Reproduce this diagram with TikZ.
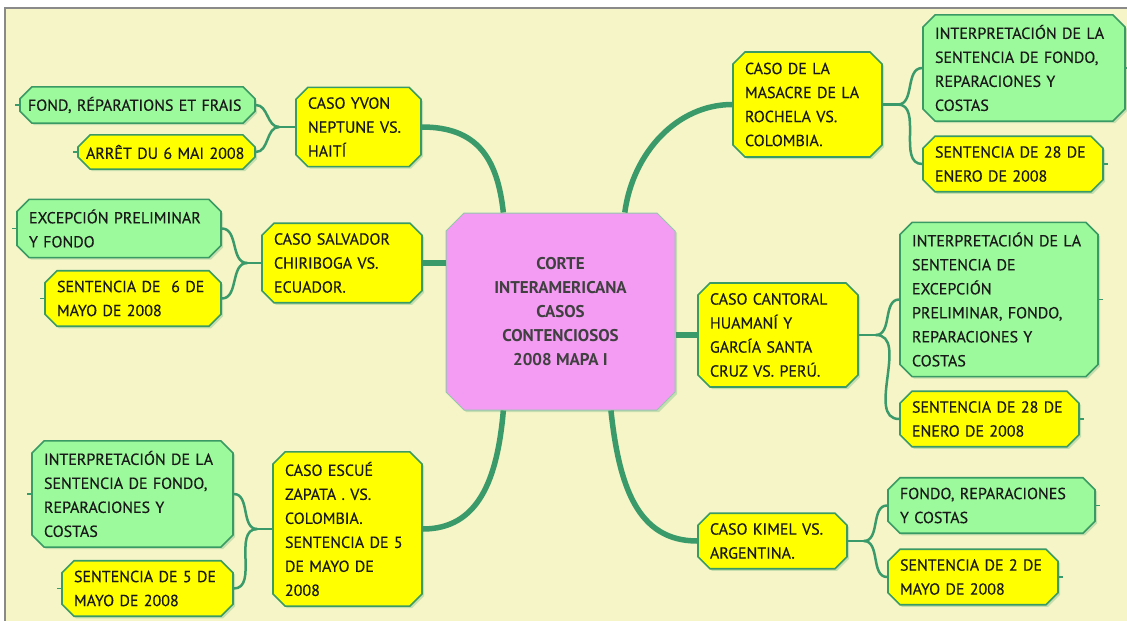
\documentclass[tikz,border=0pt]{standalone}
\usepackage{fontspec}
\setmainfont{PT Sans}
\newfontfamily\textocaja{PT Sans}[FakeBold=0.35]
\usetikzlibrary{shapes.misc,shadows}

\definecolor{fondo}{HTML}{F5F5C8}
\definecolor{borde}{HTML}{3A9A64}
\definecolor{amarillo}{HTML}{FFFF00}
\definecolor{verde}{HTML}{9CF99C}
\definecolor{rosa}{HTML}{F49CF4}
\definecolor{ramas}{HTML}{3A9A6A}
\definecolor{marco}{HTML}{8A8A8A}

\tikzset{
  caja/.style={chamfered rectangle, chamfered rectangle xsep=6pt,
    chamfered rectangle ysep=6pt, draw=borde, line width=1.6pt,
    align=left, inner xsep=6pt, inner ysep=4pt,
    font=\fontsize{16}{24}\textocaja, text=black!90,
    drop shadow={shadow xshift=2pt, shadow yshift=-2pt, fill=borde, opacity=.25}},
  caso/.style={caja, fill=amarillo},
  hoja/.style={caja, fill=verde},
  linea/.style={inner xsep=2pt},
  tronco/.style={draw=ramas, line width=5.5pt},
  rama/.style={draw=ramas, line width=2.5pt},
  cabo/.style={draw=ramas, line width=1.5pt},
}

\begin{document}
\begin{tikzpicture}[x=1pt, y=-1pt]
  \useasboundingbox (0,0) rectangle (1127,621);
  \fill[white] (0,0) rectangle (1127,621);
  \fill[fondo] (6,9) rectangle (1127,621);
  \draw[marco, line width=1.5pt] (5,621) -- (5,8) -- (1127,8);

  % centro
  \node[caja, fill=rosa, draw=borde!55, line width=1pt, align=center,
        chamfered rectangle xsep=9pt, chamfered rectangle ysep=9pt,
        minimum width=229pt, minimum height=197pt,
        font=\fontsize{17}{24}\selectfont\bfseries, text=black!75] (centro) at (560.5,311.5)
        {CORTE\\INTERAMERICANA\\CASOS\\CONTENCIOSOS\\2008 MAPA I};

  % lado izquierdo
  \node[caso, minimum width=125pt, minimum height=78pt, text width=101pt] (yvon) at (358.5,127) {CASO YVON\\NEPTUNE VS.\\HAITÍ};
  \node[hoja, linea, minimum width=235pt, minimum height=30pt, text width=219pt] (fond) at (137.5,105) {FOND, RÉPARATIONS ET FRAIS};
  \node[caso, linea, minimum width=177pt, minimum height=30pt, text width=161pt] (arret) at (166.5,152) {ARRÊT DU 6 MAI 2008};

  \node[caso, minimum width=160pt, minimum height=78pt, text width=136pt] (salvador) at (342,263) {CASO SALVADOR\\CHIRIBOGA VS.\\ECUADOR.};
  \node[hoja, minimum width=204pt, minimum height=53pt, text width=180pt] (excep) at (119,228.5) {EXCEPCIÓN PRELIMINAR\\Y FONDO};
  \node[caso, minimum width=176pt, minimum height=53pt, text width=152pt] (sentseis) at (133,298.5) {SENTENCIA DE \ 6 DE\\MAYO DE 2008};

  \node[caso, minimum width=149pt, minimum height=152pt, text width=125pt] (escue) at (347.5,529) {CASO ESCUÉ\\ZAPATA . VS.\\COLOMBIA.\\SENTENCIA DE 5\\DE MAYO DE\\2008};
  \node[hoja, minimum width=201pt, minimum height=102pt, text width=177pt] (interpiz) at (132.5,494) {INTERPRETACIÓN DE LA\\SENTENCIA DE FONDO,\\REPARACIONES Y\\COSTAS};
  \node[caso, minimum width=171pt, minimum height=53pt, text width=147pt] (sentcinco) at (147.5,588.5) {SENTENCIA DE 5 DE\\MAYO DE 2008};

  % lado derecho
  \node[caso, minimum width=149pt, minimum height=105pt, text width=125pt] (rochela) at (807.5,104.5) {CASO DE LA\\MASACRE DE LA\\ROCHELA VS.\\COLOMBIA.};
  \node[hoja, minimum width=202pt, minimum height=102pt, text width=178pt] (interpro) at (1024,68) {INTERPRETACIÓN DE LA\\SENTENCIA DE FONDO,\\REPARACIONES Y\\COSTAS};
  \node[caso, minimum width=180pt, minimum height=54pt, text width=156pt] (sentro) at (1013,164) {SENTENCIA DE 28 DE\\ENERO DE 2008};

  \node[caso, minimum width=160pt, minimum height=104pt, text width=136pt] (cantoral) at (778,335) {CASO CANTORAL\\HUAMANÍ Y\\GARCÍA SANTA\\CRUZ VS. PERÚ.};
  \node[hoja, minimum width=198pt, minimum height=149pt, text width=174pt] (interpca) at (999,299.5) {INTERPRETACIÓN DE LA\\SENTENCIA DE\\EXCEPCIÓN\\PRELIMINAR, FONDO,\\REPARACIONES Y\\COSTAS};
  \node[caso, minimum width=179pt, minimum height=52pt, text width=155pt] (sentca) at (989.5,419) {SENTENCIA DE 28 DE\\ENERO DE 2008};

  \node[caso, minimum width=149pt, minimum height=54pt, text width=125pt] (kimel) at (772.5,541) {CASO KIMEL VS.\\ARGENTINA.};
  \node[hoja, minimum width=207pt, minimum height=53pt, text width=183pt] (fondorep) at (991.5,505.5) {FONDO, REPARACIONES\\Y COSTAS};
  \node[caso, minimum width=170pt, minimum height=52pt, text width=146pt] (sentki) at (973,577) {SENTENCIA DE 2 DE\\MAYO DE 2008};

  % troncos
  \draw[tronco] (yvon.east) .. controls +(55,0) and +(-6,-55) .. (centro.120);
  \draw[tronco] (salvador.east) -- (salvador.east -| centro.west);
  \draw[tronco] (centro.240) .. controls +(-6,70) and +(55,0) .. (escue.east);
  \draw[tronco] (centro.57) .. controls +(8,-60) and +(-55,0) .. (rochela.west);
  \draw[tronco] (centro.east |- cantoral.west) -- (cantoral.west);
  \draw[tronco] (centro.297) .. controls +(8,75) and +(-60,0) .. (kimel.west);

  % ramas
  \draw[rama] (yvon.west) -- ++(-16,0) coordinate (jyvon);
  \draw[rama] (jyvon) to[out=180,in=0] (fond.east);
  \draw[rama] (jyvon) to[out=180,in=0] (arret.east);
  \draw[rama] (salvador.west) -- ++(-14,0) coordinate (jsalvador);
  \draw[rama] (jsalvador) to[out=180,in=0] (excep.east);
  \draw[rama] (jsalvador) to[out=180,in=0] (sentseis.east);
  \draw[rama] (escue.west) -- ++(-15,0) coordinate (jescue);
  \draw[rama] (jescue) to[out=180,in=0] (interpiz.east);
  \draw[rama] (jescue) to[out=180,in=0] (sentcinco.east);
  \draw[rama] (rochela.east) -- ++(15,0) coordinate (jrochela);
  \draw[rama] (jrochela) to[out=0,in=180] (interpro.west);
  \draw[rama] (jrochela) to[out=0,in=180] (sentro.west);
  \draw[rama] (cantoral.east) -- ++(17,0) coordinate (jcantoral);
  \draw[rama] (jcantoral) to[out=0,in=180] (interpca.west);
  \draw[rama] (jcantoral) to[out=0,in=180] (sentca.west);
  \draw[rama] (kimel.east) -- ++(16,0) coordinate (jkimel);
  \draw[rama] (jkimel) to[out=0,in=180] (fondorep.west);
  \draw[rama] (jkimel) to[out=0,in=180] (sentki.west);

  % cabos sueltos
  \foreach \n in {fond,arret,excep,sentseis,interpiz,sentcinco}
    \draw[cabo] (\n.west) -- ++(-4,0);
  \foreach \n in {interpro,sentro,interpca,sentca,fondorep,sentki}
    \draw[cabo] (\n.east) -- ++(4,0);
\end{tikzpicture}
\end{document}
